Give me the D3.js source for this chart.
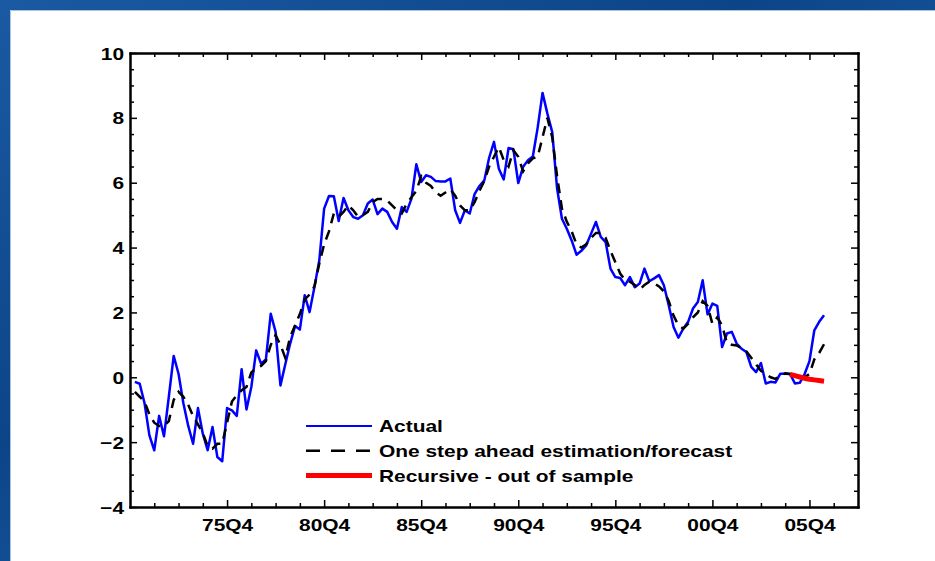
<!DOCTYPE html>
<html>
<head>
<meta charset="utf-8">
<script src="https://cdn.jsdelivr.net/npm/d3@7"></script>
<style>
  body { margin: 0; background: #fff; }
  svg text { font-family: "Liberation Sans", Arial, sans-serif; font-weight: bold; fill: #000; }
</style>
</head>
<body>
<div id="chart"></div>
<script>
// quarterly series, first point 71Q1
const startYear = 1971.0;
const actual = [
  -0.14, -0.2, -0.8, -1.79, -2.25, -1.19, -1.82, -0.6, 0.66, 0.11,
  -0.8, -1.5, -2.05, -0.95, -1.74, -2.25, -1.53, -2.46, -2.59, -0.95,
  -1.02, -1.19, 0.25, -0.99, -0.3, 0.83, 0.42, 0.55, 1.96, 1.4,
  -0.25, 0.4, 1.04, 1.58, 1.47, 2.53, 2.01, 2.78, 3.6, 5.2,
  5.59, 5.58, 4.82, 5.53, 5.15, 4.94, 4.89, 5.0, 5.36, 5.48,
  5.03, 5.2, 5.1, 4.79, 4.58, 5.25, 5.1, 5.51, 6.57, 6.02,
  6.23, 6.18, 6.05, 6.04, 6.04, 6.13, 5.15, 4.76, 5.15, 5.05,
  5.65, 5.9, 6.07, 6.77, 7.26, 6.43, 6.1, 7.07, 7.03, 5.99,
  6.49, 6.69, 6.81, 7.7, 8.77, 8.13, 7.56, 5.82, 4.89, 4.58,
  4.22, 3.78, 3.9, 4.07, 4.43, 4.79, 4.33, 4.17, 3.35, 3.09,
  3.06, 2.84, 3.09, 2.78, 2.89, 3.35, 2.96, 3.05, 3.15, 2.84,
  2.22, 1.55, 1.22, 1.5, 1.71, 2.12, 2.32, 2.99, 1.94, 2.27,
  2.2, 0.93, 1.35, 1.4, 1.04, 0.88, 0.78, 0.32, 0.16, 0.44,
  -0.19, -0.14, -0.16, 0.11, 0.11, 0.1, -0.19, -0.17, 0.1, 0.5,
  1.45, 1.71, 1.91
];
const forecast = [
  -0.45, -0.6, -0.75, -1.15, -1.4, -1.5, -1.5, -1.35, -0.7, -0.45,
  -0.6, -0.85, -1.2, -1.45, -1.72, -2.12, -2.2, -2.05, -2.05, -1.4,
  -0.75, -0.55, -0.4, -0.3, 0.15, 0.28, 0.35, 0.5, 1.0, 1.3,
  1.0, 0.6, 1.25, 1.6, 1.95, 2.4, 2.55, 2.8, 3.5, 4.1,
  4.5, 5.05, 4.95, 5.1, 5.3, 5.15, 4.95, 5.0, 5.1, 5.4,
  5.5, 5.5, 5.45, 5.3, 5.15, 5.05, 5.35, 5.55, 5.75, 6.2,
  6.0, 5.9, 5.7, 5.6, 5.7, 5.8, 5.6, 5.3, 5.15, 5.15,
  5.4, 5.75, 6.05, 6.5, 6.8, 7.1, 6.7, 6.5, 7.0, 6.8,
  6.35, 6.6, 6.75, 6.8, 7.4, 8.0, 7.4, 6.2, 5.2, 4.8,
  4.5, 4.1, 4.0, 4.1, 4.3, 4.45, 4.45, 4.3, 3.9, 3.55,
  3.2, 3.0, 2.95, 2.85, 2.7, 2.85, 2.95, 2.9, 2.8, 2.65,
  2.35, 1.9, 1.6, 1.5, 1.65, 1.85, 2.0, 2.35, 2.2, 1.65,
  1.85, 1.6, 1.05, 1.0, 0.98, 0.9, 0.8, 0.6, 0.4, 0.2,
  0.1, 0.0, -0.05, 0.05, 0.12, 0.1, 0.03, 0.0, 0.0, 0.1,
  0.55, 0.75, 1.02
];
// recursive out-of-sample path, first point 04Q4
const recursiveStart = 2004.75;
const recursive = [0.09, 0.05, 0.01, -0.03, -0.06, -0.08, -0.1, -0.12];

const xTickLabels = ["75Q4", "80Q4", "85Q4", "90Q4", "95Q4", "00Q4", "05Q4"];
const yTicks = [-4, -2, 0, 2, 4, 6, 8, 10];
const legendNames = ["Actual", "One step ahead estimation/forecast", "Recursive - out of sample"];

const W = 935, H = 561;
const pad = { left: 130, right: 858, top: 53, bottom: 507 };
const sx = 1.23; // text looks horizontally stretched

const svg = d3.select('#chart').append('svg')
  .attr('width', W).attr('height', H);

// blue frame
const defs = svg.append('defs');
const grad = defs.append('linearGradient').attr('id', 'bg')
  .attr('x1', 0).attr('y1', 0).attr('x2', 1).attr('y2', 1);
grad.append('stop').attr('offset', '0%').attr('stop-color', '#1a5aa2');
grad.append('stop').attr('offset', '40%').attr('stop-color', '#0c4488');
grad.append('stop').attr('offset', '70%').attr('stop-color', '#1d61aa');
grad.append('stop').attr('offset', '100%').attr('stop-color', '#0b3f80');
svg.append('rect').attr('width', W).attr('height', H).attr('fill', 'url(#bg)');
svg.append('rect').attr('x', 10).attr('y', 10).attr('width', W - 10).attr('height', H - 10)
  .attr('fill', '#fff');
svg.append('path').attr('d', 'M10.5,' + H + 'V10.5H' + W)
  .attr('fill', 'none').attr('stroke', '#a9c3e0').attr('stroke-width', 1);

const x = d3.scaleLinear().domain([1970.75, 2008.25]).range([pad.left, pad.right]);
const y = d3.scaleLinear().domain([-4, 10]).range([pad.bottom, pad.top]);

const xMajor = xTickLabels.map((d, i) => 1975.75 + 5 * i);
const xMinor = d3.range(1, 30).map(k => 1970.75 + 1.25 * k).filter(v => xMajor.indexOf(v) < 0);
const yMinor = d3.range(-4, 10.01, 0.5).filter(v => yTicks.indexOf(v) < 0);

function styleAxis(g) {
  g.select('.domain').attr('stroke', '#000').attr('stroke-width', 2);
  g.selectAll('.tick line').attr('stroke', '#000').attr('stroke-width', 1.5);
}

// minor ticks
svg.append('g').attr('transform', 'translate(0,' + pad.bottom + ')')
  .call(d3.axisBottom(x).tickValues(xMinor).tickSize(-4).tickSizeOuter(0).tickFormat(''))
  .call(styleAxis);
svg.append('g').attr('transform', 'translate(0,' + pad.top + ')')
  .call(d3.axisTop(x).tickValues(xMinor).tickSize(-4).tickSizeOuter(0).tickFormat(''))
  .call(styleAxis);
svg.append('g').attr('transform', 'translate(' + pad.left + ',0)')
  .call(d3.axisLeft(y).tickValues(yMinor).tickSize(-4).tickSizeOuter(0).tickFormat(''))
  .call(styleAxis);
svg.append('g').attr('transform', 'translate(' + pad.right + ',0)')
  .call(d3.axisRight(y).tickValues(yMinor).tickSize(-4).tickSizeOuter(0).tickFormat(''))
  .call(styleAxis);

// major ticks
const xAxis = svg.append('g').attr('transform', 'translate(0,' + pad.bottom + ')')
  .call(d3.axisBottom(x).tickValues(xMajor).tickSize(-7).tickSizeOuter(0)
    .tickFormat((d, i) => xTickLabels[i]))
  .call(styleAxis);
xAxis.selectAll('.tick text')
  .attr('y', 12).attr('dy', '0.71em')
  .attr('font-size', 17).attr('transform', 'scale(' + sx + ',1)');

svg.append('g').attr('transform', 'translate(0,' + pad.top + ')')
  .call(d3.axisTop(x).tickValues(xMajor).tickSize(-7).tickSizeOuter(0).tickFormat(''))
  .call(styleAxis);

const yAxis = svg.append('g').attr('transform', 'translate(' + pad.left + ',0)')
  .call(d3.axisLeft(y).tickValues(yTicks).tickSize(-7).tickSizeOuter(0).tickFormat(d3.format('d')))
  .call(styleAxis);
yAxis.selectAll('.tick text')
  .attr('x', -6 / sx).attr('dy', '0.36em')
  .attr('font-size', 17).attr('transform', 'scale(' + sx + ',1)');

svg.append('g').attr('transform', 'translate(' + pad.right + ',0)')
  .call(d3.axisRight(y).tickValues(yTicks).tickSize(-7).tickSizeOuter(0).tickFormat(''))
  .call(styleAxis);

svg.selectAll('.domain').attr('stroke-linecap', 'square');

// series
const line = d3.line().x(d => x(d.t)).y(d => y(d.v));
const actualData = actual.map((v, i) => ({ t: startYear + i / 4, v: v }));
const forecastData = forecast.map((v, i) => ({ t: startYear + i / 4, v: v }));
const recursiveData = recursive.map((v, i) => ({ t: recursiveStart + i / 4, v: v }));

svg.append('path').datum(actualData)
  .attr('d', line).attr('fill', 'none')
  .attr('stroke', '#0000ff').attr('stroke-width', 2.5).attr('stroke-linejoin', 'round');

svg.append('path').datum(forecastData)
  .attr('d', line).attr('fill', 'none')
  .attr('stroke', '#000').attr('stroke-width', 2.5).attr('stroke-dasharray', '10,7');

svg.append('path').datum(recursiveData)
  .attr('d', line).attr('fill', 'none')
  .attr('stroke', '#ff0000').attr('stroke-width', 5);

// legend
const legendStyles = [
  { color: '#0000ff', width: 2, dash: null },
  { color: '#000', width: 2.5, dash: '14,11' },
  { color: '#ff0000', width: 5, dash: null }
];
const legend = svg.append('g').attr('transform', 'translate(306,426)');
legendNames.forEach(function (name, i) {
  const row = legend.append('g').attr('transform', 'translate(0,' + (i * 24.8) + ')');
  row.append('line')
    .attr('x1', 0).attr('x2', 66).attr('y1', 0).attr('y2', 0)
    .attr('stroke', legendStyles[i].color)
    .attr('stroke-width', legendStyles[i].width)
    .attr('stroke-dasharray', legendStyles[i].dash);
  row.append('text')
    .attr('transform', 'translate(73,0) scale(' + sx + ',1)')
    .attr('dy', '0.36em')
    .attr('font-size', 17)
    .text(name);
});
</script>
</body>
</html>
